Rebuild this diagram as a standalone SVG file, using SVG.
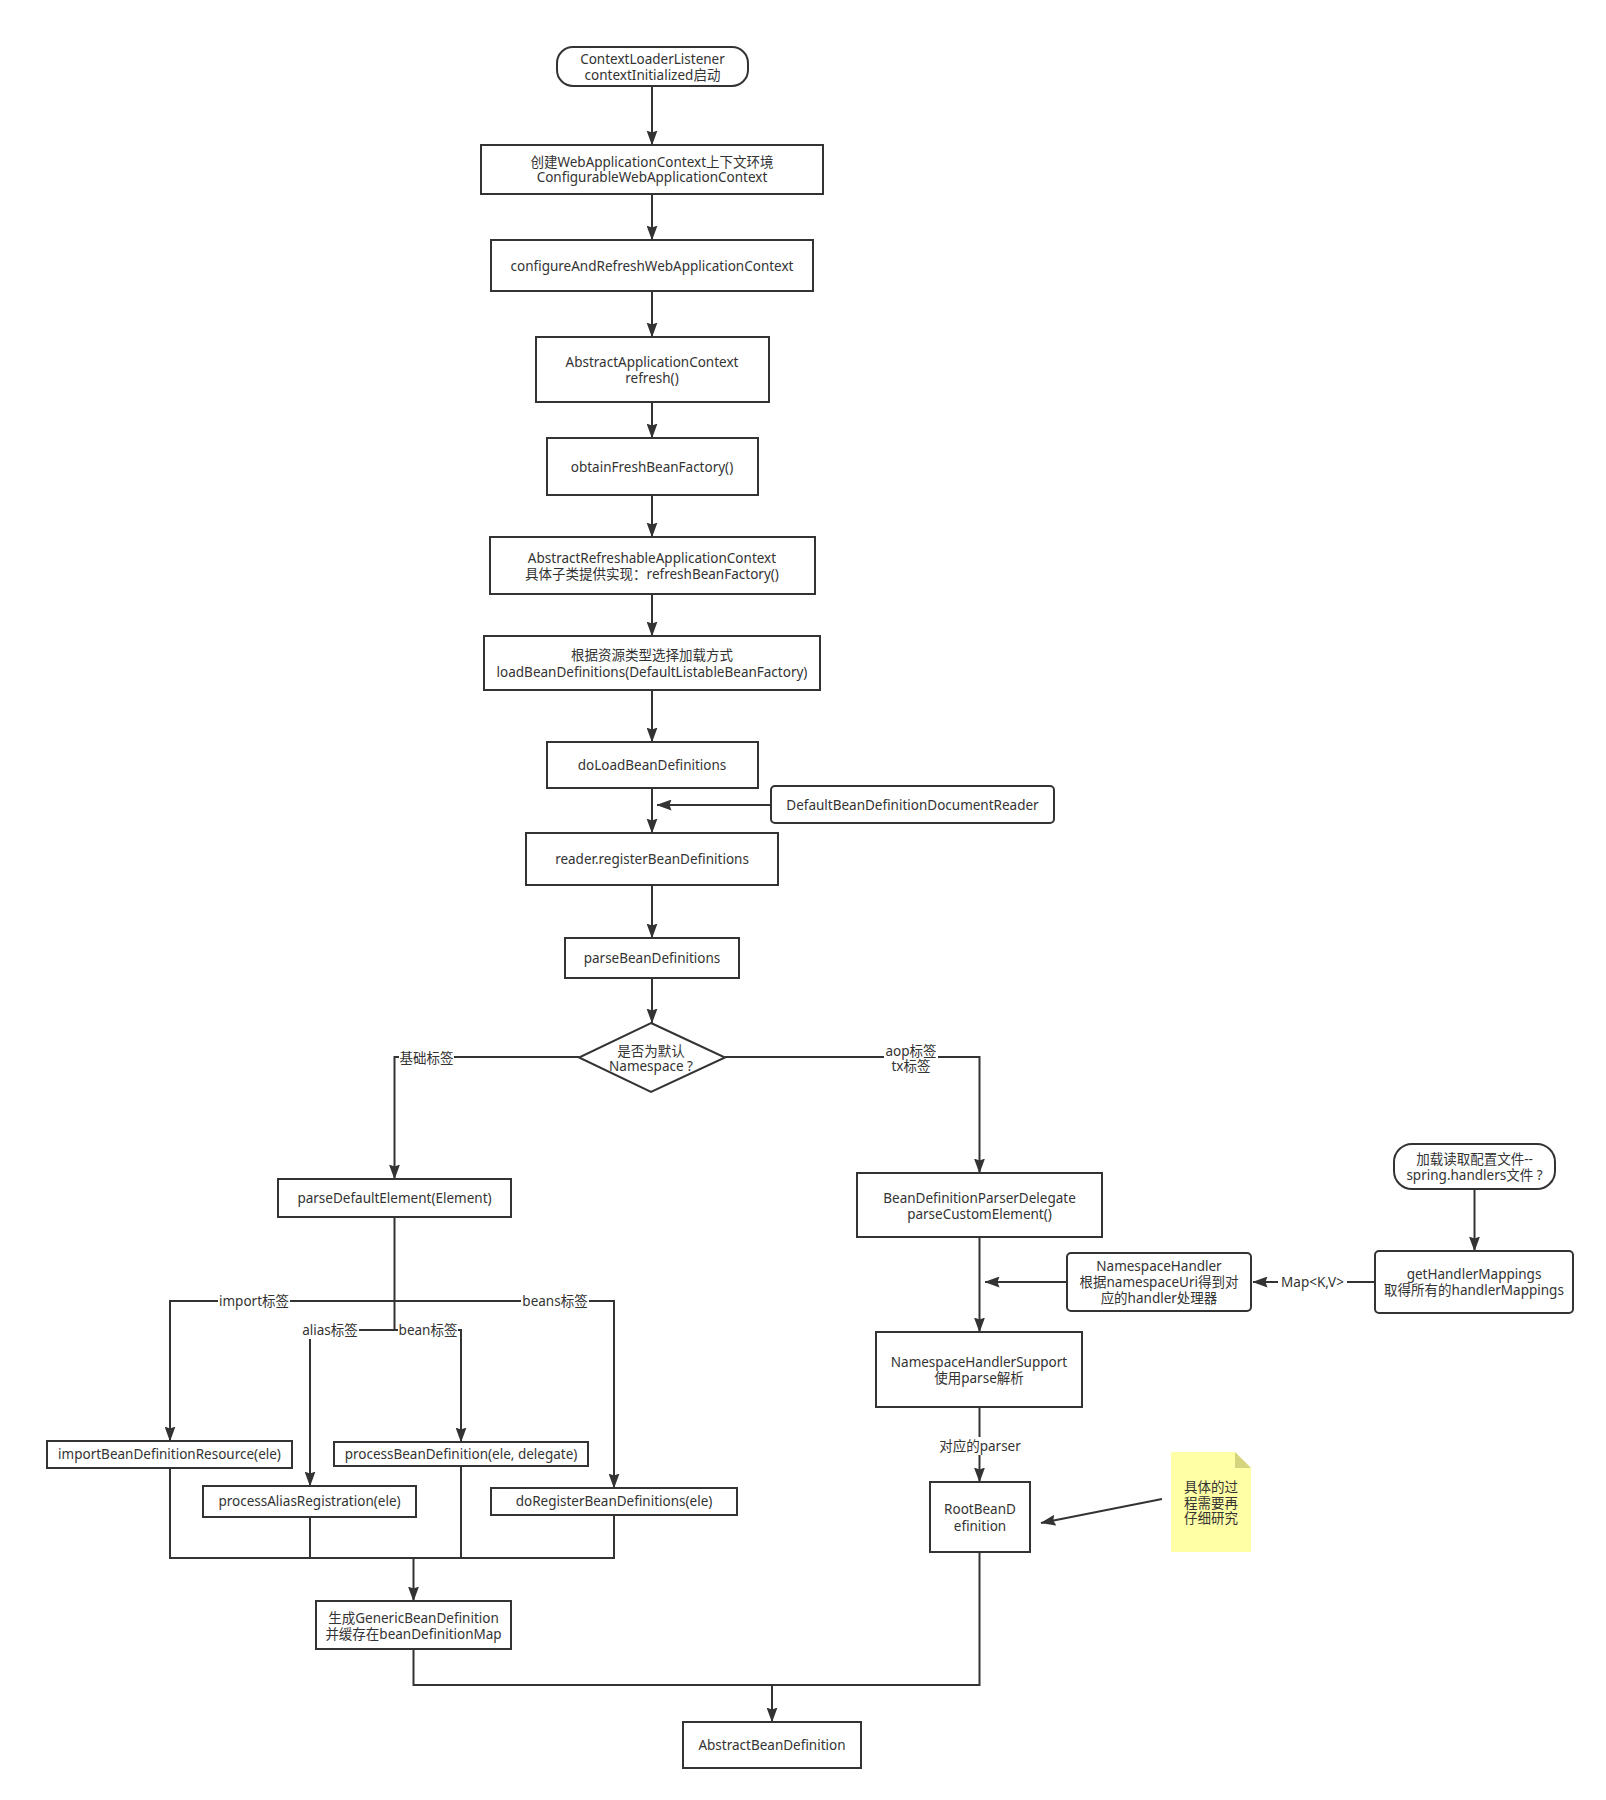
<svg xmlns="http://www.w3.org/2000/svg" width="1606" height="1800" viewBox="0 0 1606 1800">
<defs>
<marker id="arr" viewBox="0 0 15 11" refX="14.5" refY="5.5" markerWidth="15" markerHeight="11" markerUnits="userSpaceOnUse" orient="auto">
<path d="M0,0 L15,5.5 L0,11 L2,5.5 z" fill="#333"/>
</marker>
<style>
.box{fill:#fff;stroke:#333;stroke-width:2}
.t{font-family:"Noto Sans","Noto Sans CJK SC",sans-serif;font-size:13.5px;fill:#333;text-anchor:middle;dominant-baseline:central}
.c{fill:none;stroke:#333;stroke-width:2}
.a{marker-end:url(#arr)}
.lb{fill:#fff;stroke:none}
</style>
</defs>
<rect width="1606" height="1800" fill="#fff"/>
<g id="connectors">
<path class="c a" d="M652,86 V145"/>
<path class="c a" d="M652,194 V240"/>
<path class="c a" d="M652,291 V337"/>
<path class="c a" d="M652,402 V438"/>
<path class="c a" d="M652,495 V537"/>
<path class="c a" d="M652,594 V636"/>
<path class="c a" d="M652,690 V742"/>
<path class="c a" d="M652,788 V833"/>
<path class="c a" d="M771,805 H657"/>
<path class="c a" d="M652,885 V938"/>
<path class="c a" d="M652,978 V1023"/>
<path class="c a" d="M579,1057 H394.5 V1179"/>
<rect class="lb" x="399" y="1049" width="55" height="17"/>
<text class="t" x="426.5" y="1058">基础标签</text>
<path class="c a" d="M725,1057 H979.5 V1173"/>
<rect class="lb" x="884" y="1043" width="54" height="32"/>
<text class="t" x="911" y="1051">aop标签</text>
<text class="t" x="911" y="1066">tx标签</text>
<path class="c a" d="M394.5,1217 V1301 H170 V1441"/>
<path class="c a" d="M394.5,1301 H614 V1488"/>
<path class="c a" d="M394.5,1301 V1330 H310 V1486"/>
<path class="c a" d="M394.5,1330 H461 V1442"/>
<rect class="lb" x="218" y="1293" width="72" height="17"/>
<text class="t" x="254" y="1301">import标签</text>
<rect class="lb" x="521" y="1293" width="68" height="17"/>
<text class="t" x="555" y="1301">beans标签</text>
<rect class="lb" x="301" y="1321" width="58" height="18"/>
<text class="t" x="330" y="1330">alias标签</text>
<rect class="lb" x="398" y="1322" width="60" height="17"/>
<text class="t" x="428" y="1330">bean标签</text>
<path class="c" d="M170,1468 V1558 H614 V1515"/>
<path class="c" d="M310,1517 V1558"/>
<path class="c" d="M461,1466 V1558"/>
<path class="c a" d="M413.5,1558 V1601"/>
<path class="c a" d="M979.5,1237 V1332"/>
<path class="c a" d="M1067,1282 H985"/>
<path class="c a" d="M1375,1282 H1253"/>
<rect class="lb" x="1278" y="1274" width="69" height="17"/>
<text class="t" x="1312.5" y="1282">Map&lt;K,V&gt;</text>
<path class="c a" d="M1474.5,1189 V1251"/>
<path class="c a" d="M979.5,1407 V1482"/>
<rect class="lb" x="937" y="1437" width="86" height="18"/>
<text class="t" x="980" y="1446">对应的parser</text>
<path class="c a" d="M1162,1499 L1041,1523"/>
<path class="c" d="M979.5,1552 V1685 H413.5 V1649"/>
<path class="c a" d="M772,1685 V1722"/>
</g>
<g id="n1"><rect class="box" x="557" y="47" width="191" height="39" rx="16"/><text class="t" x="652.5" y="59">ContextLoaderListener</text><text class="t" x="652.5" y="75">contextInitialized启动</text></g>
<g id="n2"><rect class="box" x="481" y="145" width="342" height="49"/><text class="t" x="652" y="161.5">创建WebApplicationContext上下文环境</text><text class="t" x="652" y="177">ConfigurableWebApplicationContext</text></g>
<g id="n3"><rect class="box" x="491" y="240" width="322" height="51"/><text class="t" x="652" y="265.5">configureAndRefreshWebApplicationContext</text></g>
<g id="n4"><rect class="box" x="536" y="337" width="233" height="65"/><text class="t" x="652" y="361.5">AbstractApplicationContext</text><text class="t" x="652" y="377.5">refresh()</text></g>
<g id="n5"><rect class="box" x="547" y="438" width="211" height="57"/><text class="t" x="652" y="467">obtainFreshBeanFactory()</text></g>
<g id="n6"><rect class="box" x="490" y="537" width="325" height="57"/><text class="t" x="652" y="557.5">AbstractRefreshableApplicationContext</text><text class="t" x="652" y="574">具体子类提供实现：refreshBeanFactory()</text></g>
<g id="n7"><rect class="box" x="484" y="636" width="336" height="54"/><text class="t" x="652" y="655">根据资源类型选择加载方式</text><text class="t" x="652" y="671.5">loadBeanDefinitions(DefaultListableBeanFactory)</text></g>
<g id="n8"><rect class="box" x="547" y="742" width="211" height="46"/><text class="t" x="652" y="765">doLoadBeanDefinitions</text></g>
<g id="n9"><rect class="box" x="771" y="786" width="283" height="37" rx="4"/><text class="t" x="912.5" y="804.5">DefaultBeanDefinitionDocumentReader</text></g>
<g id="n10"><rect class="box" x="526" y="833" width="252" height="52"/><text class="t" x="652" y="859">reader.registerBeanDefinitions</text></g>
<g id="n11"><rect class="box" x="565" y="938" width="174" height="40"/><text class="t" x="652" y="958">parseBeanDefinitions</text></g>
<g id="n12"><polygon class="box" points="651,1023 725,1057.5 651,1092 579,1057.5"/><text class="t" x="651" y="1051">是否为默认</text><text class="t" x="651" y="1066">Namespace ?</text></g>
<g id="n13"><rect class="box" x="278" y="1179" width="233" height="38"/><text class="t" x="394.5" y="1198">parseDefaultElement(Element)</text></g>
<g id="n14"><rect class="box" x="857" y="1173" width="245" height="64"/><text class="t" x="979.5" y="1197.5">BeanDefinitionParserDelegate</text><text class="t" x="979.5" y="1213.5">parseCustomElement()</text></g>
<g id="n15"><rect class="box" x="1394" y="1144" width="161" height="45" rx="18"/><text class="t" x="1474.5" y="1159">加载读取配置文件--</text><text class="t" x="1474.5" y="1174.5">spring.handlers文件 ?</text></g>
<g id="n16"><rect class="box" x="1375" y="1251" width="198" height="62" rx="4"/><text class="t" x="1474" y="1274">getHandlerMappings</text><text class="t" x="1474" y="1290">取得所有的handlerMappings</text></g>
<g id="n17"><rect class="box" x="1067" y="1253" width="184" height="58" rx="4"/><text class="t" x="1159" y="1266">NamespaceHandler</text><text class="t" x="1159" y="1282">根据namespaceUri得到对</text><text class="t" x="1159" y="1298">应的handler处理器</text></g>
<g id="n18"><rect class="box" x="876" y="1332" width="206" height="75"/><text class="t" x="979" y="1362">NamespaceHandlerSupport</text><text class="t" x="979" y="1378">使用parse解析</text></g>
<g id="n19"><rect class="box" x="930" y="1482" width="100" height="70"/><text class="t" x="980" y="1509">RootBeanD</text><text class="t" x="980" y="1525.5">efinition</text></g>
<g id="n20"><path d="M1171,1452 H1235 L1251,1468 V1552 H1171 Z" fill="#ffffa5"/><path d="M1235,1452 L1251,1468 H1235 Z" fill="#d4d47f"/><text class="t" x="1211" y="1487">具体的过</text><text class="t" x="1211" y="1502.5">程需要再</text><text class="t" x="1211" y="1518">仔细研究</text></g>
<g id="n21"><rect class="box" x="47" y="1441" width="245" height="27"/><text class="t" x="169.5" y="1454">importBeanDefinitionResource(ele)</text></g>
<g id="n22"><rect class="box" x="203" y="1486" width="213" height="31"/><text class="t" x="309.5" y="1501">processAliasRegistration(ele)</text></g>
<g id="n23"><rect class="box" x="334" y="1442" width="254" height="24"/><text class="t" x="461" y="1454">processBeanDefinition(ele, delegate)</text></g>
<g id="n24"><rect class="box" x="491" y="1488" width="246" height="27"/><text class="t" x="614" y="1501">doRegisterBeanDefinitions(ele)</text></g>
<g id="n25"><rect class="box" x="316" y="1601" width="195" height="48"/><text class="t" x="413.5" y="1618">生成GenericBeanDefinition</text><text class="t" x="413.5" y="1634">并缓存在beanDefinitionMap</text></g>
<g id="n26"><rect class="box" x="683" y="1722" width="178" height="46"/><text class="t" x="772" y="1745">AbstractBeanDefinition</text></g>
</svg>
